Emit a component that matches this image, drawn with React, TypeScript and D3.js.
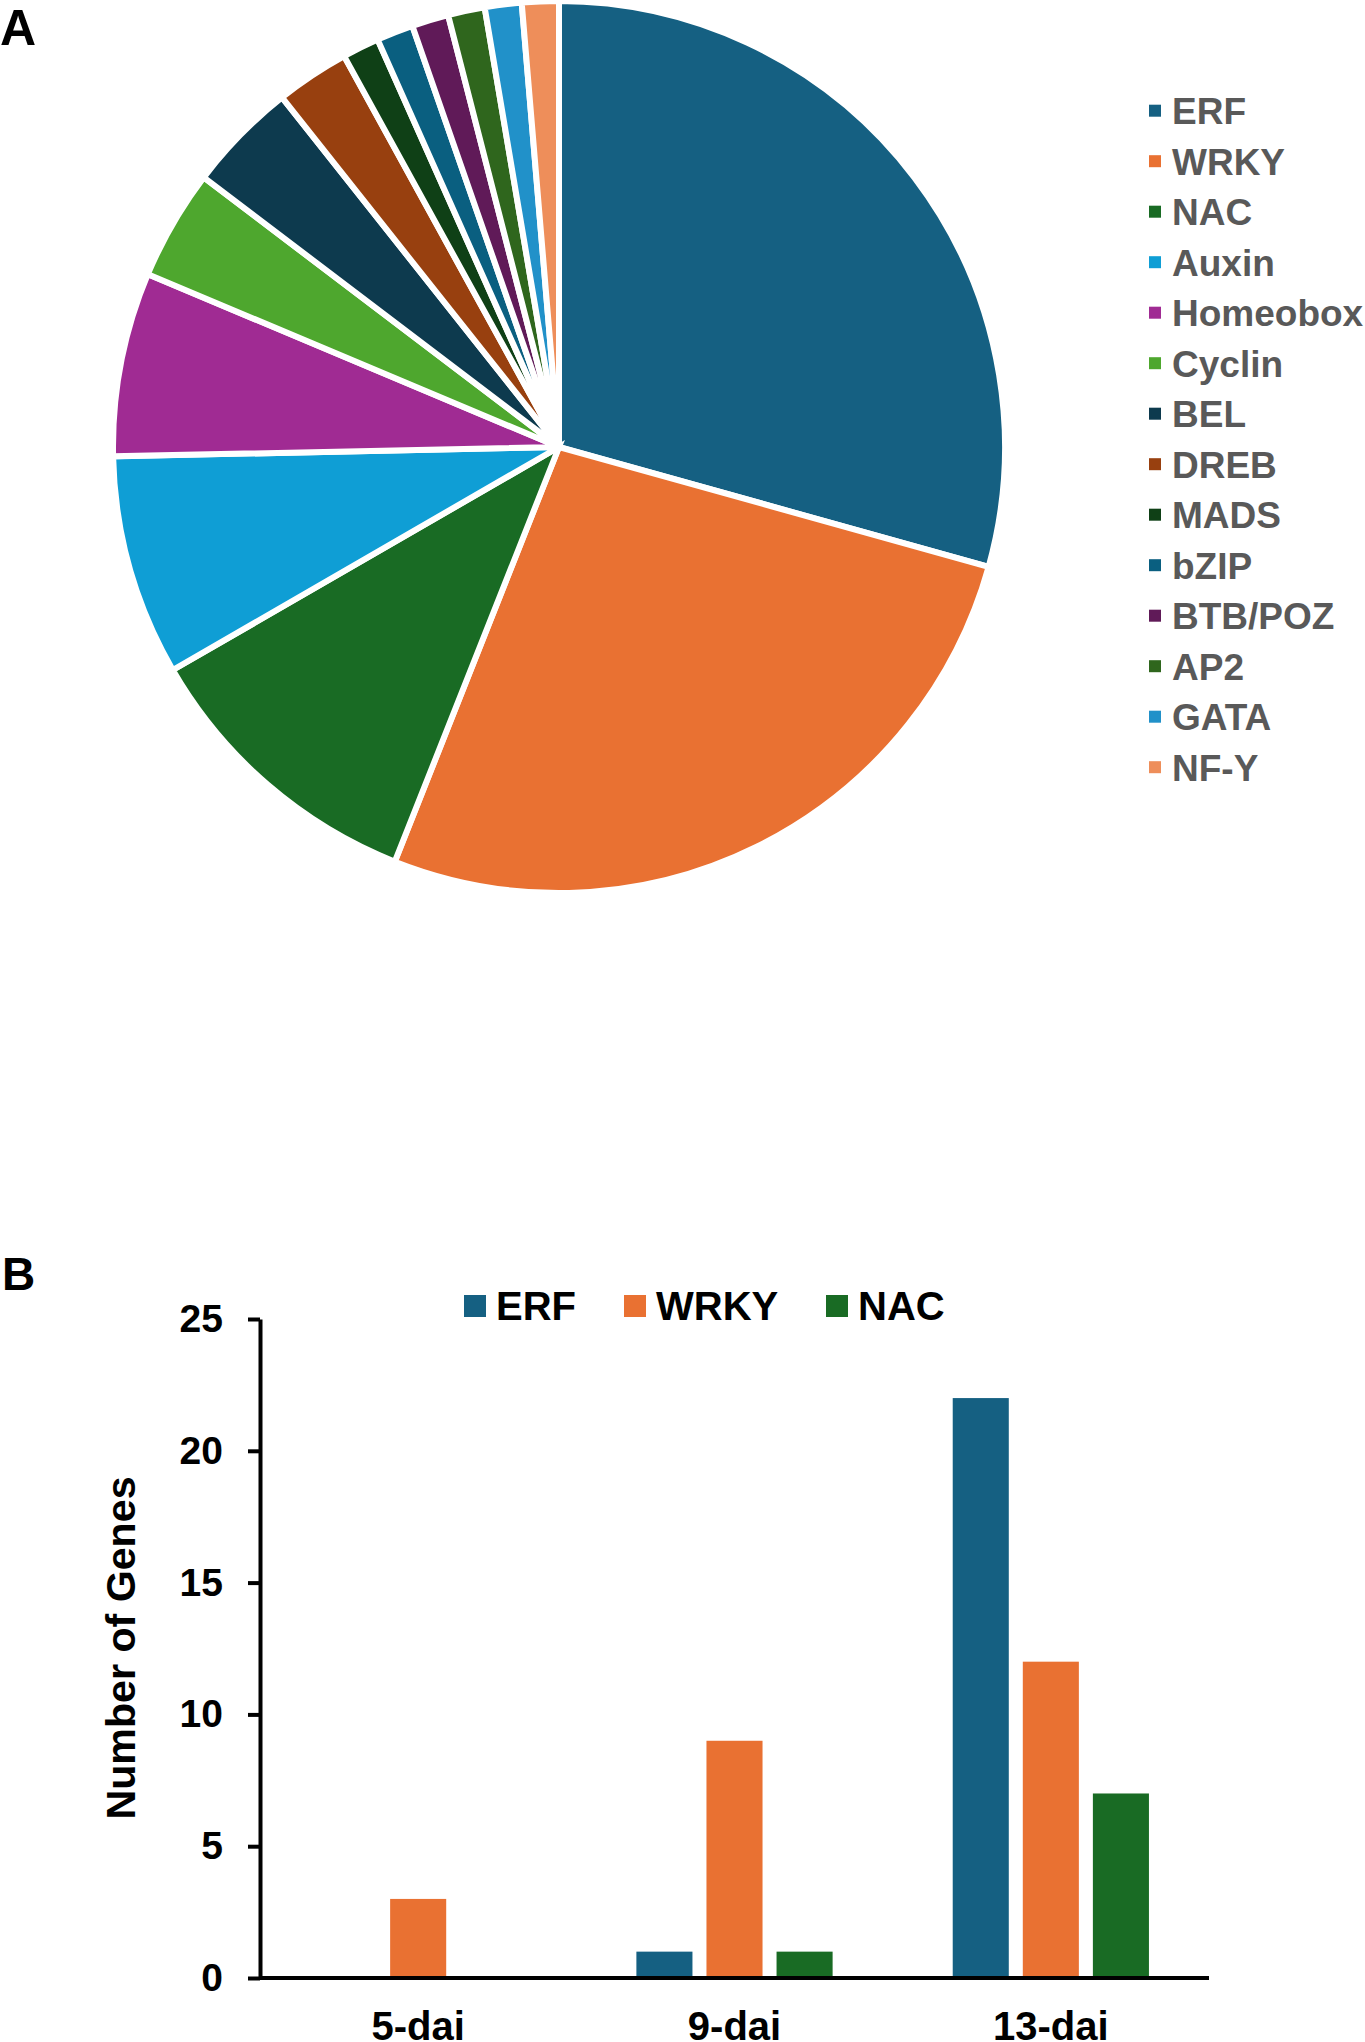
import React, { useRef, useEffect } from 'react';
import * as d3 from 'd3';

// Panel A: transcription factor families (gene counts)
const families = ['ERF', 'WRKY', 'NAC', 'Auxin', 'Homeobox', 'Cyclin', 'BEL', 'DREB', 'MADS', 'bZIP', 'BTB/POZ', 'AP2', 'GATA', 'NF-Y'];
const familyCounts = [22, 20, 8, 6, 5, 3, 3, 2, 1, 1, 1, 1, 1, 1];
const familyColors = ['#156082', '#E97132', '#196B24', '#0F9ED5', '#A02B93', '#4EA72E', '#0D3A4E', '#98400F', '#0F4016', '#0A5F80', '#601A58', '#2F661D', '#2191C9', '#EE8E5A'];

// Panel B: genes per time point
const timePoints = ['5-dai', '9-dai', '13-dai'];
const seriesNames = ['ERF', 'WRKY', 'NAC'];
const erfValues = [0, 1, 22];
const wrkyValues = [3, 9, 12];
const nacValues = [0, 1, 7];
const seriesColors = ['#156082', '#E97132', '#196B24'];
const yTicks = [0, 5, 10, 15, 20, 25];

const FONT = 'Liberation Sans, Arial, Helvetica, sans-serif';

const App = () => {
  const yAxisRef = useRef(null);

  const W = 1365;
  const H = 2042;

  // pie geometry
  const cx = 559;
  const cy = 447;
  const radius = 446;
  const pie = d3.pie<number>().sort(null).value((d) => d);
  const arcs = pie(familyCounts);
  const arc = d3.arc<d3.PieArcDatum<number>>().innerRadius(0).outerRadius(radius);

  // bar chart geometry
  const left = 260;
  const right = 1209;
  const top = 1319;
  const bottom = 1978;
  const x0 = d3.scaleBand().domain(timePoints).range([left, right]).padding(0);
  const x1 = d3.scaleBand().domain(seriesNames).range([0, x0.bandwidth()]).paddingInner(0.2).paddingOuter(0.857);
  const y = d3.scaleLinear().domain([0, 25]).range([bottom, top]);
  const seriesValues = [erfValues, wrkyValues, nacValues];

  useEffect(() => {
    const g = d3.select(yAxisRef.current);
    g.selectAll('*').remove();
    g.call(d3.axisLeft(y).tickValues(yTicks).tickSize(12).tickSizeOuter(0).tickPadding(25));
    g.select('.domain').attr('stroke', '#000').attr('stroke-width', 4);
    g.selectAll('.tick line').attr('stroke', '#000').attr('stroke-width', 4);
    g.selectAll('.tick text')
      .attr('fill', '#000')
      .attr('font-family', FONT)
      .attr('font-weight', 'bold')
      .attr('font-size', 39);
  }, []);

  const barLegendX = [464, 624, 826];

  return (
    <svg width={W} height={H} style={{ position: 'absolute', left: 0, top: 0, background: '#fff' }} fontFamily={FONT}>
      <rect width={W} height={H} fill="#fff" />

      <text x={0} y={45} fontSize={50} fontWeight="bold" fill="#000">A</text>
      <g transform={`translate(${cx},${cy})`}>
        {arcs.map((a, i) => (
          <path key={families[i]} d={arc(a) || ''} fill={familyColors[i]} stroke="#fff" strokeWidth={6} strokeLinejoin="miter" />
        ))}
      </g>
      <g>
        {families.map((f, i) => (
          <g key={f} transform={`translate(1149,${110.7 + i * 50.5})`}>
            <rect x={0} y={-6} width={12} height={12} fill={familyColors[i]} />
            <text x={23} y={0} dy="0.36em" fontSize={37} fontWeight="bold" fill="#595959">{f}</text>
          </g>
        ))}
      </g>

      <text x={2} y={1290} fontSize={46} fontWeight="bold" fill="#000">B</text>
      <g>
        {seriesNames.map((s, i) => (
          <g key={s} transform={`translate(${barLegendX[i]},1306)`}>
            <rect x={0} y={-11} width={22} height={22} fill={seriesColors[i]} />
            <text x={32} y={0} dy="0.36em" fontSize={40} fontWeight="bold" fill="#000">{s}</text>
          </g>
        ))}
      </g>

      {timePoints.map((t, ti) => (
        <g key={t} transform={`translate(${x0(t)},0)`}>
          {seriesNames.map((s, si) => {
            const v = seriesValues[si][ti];
            if (!v) return null;
            return (
              <rect key={s} x={x1(s)} y={y(v)} width={x1.bandwidth()} height={bottom - y(v)} fill={seriesColors[si]} />
            );
          })}
          <text x={x0.bandwidth() / 2} y={2040} textAnchor="middle" fontSize={40} fontWeight="bold" fill="#000">{t}</text>
        </g>
      ))}

      <line x1={left} x2={right} y1={bottom} y2={bottom} stroke="#000" strokeWidth={4} />
      <g ref={yAxisRef} transform={`translate(${left},0)`} />

      <text
        transform="translate(135,1648) rotate(-90)"
        textAnchor="middle"
        fontSize={41}
        fontWeight="bold"
        textLength={343}
        lengthAdjust="spacingAndGlyphs"
        fill="#000"
      >
        Number of Genes
      </text>
    </svg>
  );
};

export default App;
